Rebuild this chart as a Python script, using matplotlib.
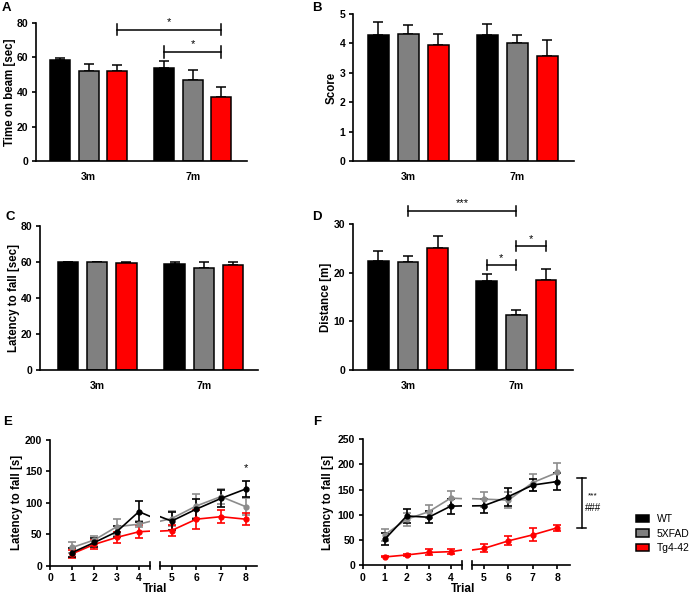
import numpy as np
import matplotlib.pyplot as plt
from matplotlib.patches import Patch

plt.rcParams['font.family'] = ['Liberation Sans', 'DejaVu Sans']
plt.rcParams['font.weight'] = 'bold'
plt.rcParams['axes.labelweight'] = 'bold'

# ----------------------
# Data
# ----------------------
groups = ['WT', '5XFAD', 'Tg4-42']
ages = ['3m', '7m']
colors = ['#000000', '#808080', '#ff0000']
line_colors = ['#000000', '#8c8c8c', '#ff0000']

# bar panels: values ordered WT, 5XFAD, Tg4-42 for 3m then 7m
beam_time = [58.4, 52.3, 52.3, 54.0, 46.9, 37.1]
beam_time_err = [1.4, 3.9, 3.1, 4.0, 5.6, 5.6]
beam_score = [4.29, 4.33, 3.94, 4.29, 4.01, 3.57]
beam_score_err = [0.43, 0.30, 0.39, 0.38, 0.28, 0.53]
grid_latency = [59.8, 59.8, 59.5, 58.5, 56.5, 58.0]
grid_latency_err = [0.1, 0.1, 0.4, 1.1, 3.4, 1.7]
distance = [22.4, 22.2, 25.1, 18.2, 11.2, 18.5]
distance_err = [2.1, 1.3, 2.4, 1.6, 1.2, 2.3]

# rotarod trials
trials = [1, 2, 3, 4, 5, 6, 7, 8]
e_wt = [21, 37, 54, 86, 71, 90, 107, 122]
e_wt_err = [7, 7, 9, 17, 14, 16, 13, 13]
e_5xfad = [29, 41, 62, 66, 75, 95, 110, 94]
e_5xfad_err = [8, 7, 13, 5, 12, 19, 12, 13]
e_tg = [19, 34, 45, 54, 56, 74, 78, 74]
e_tg_err = [6, 7, 9, 10, 8, 15, 10, 10]

f_wt = [51, 97.5, 95, 117, 118, 136, 159, 166]
f_wt_err = [12, 14, 12, 15, 14, 18, 12, 17]
f_5xfad = [60, 91, 106, 133, 131, 129, 164, 184]
f_5xfad_err = [12, 13, 13, 15, 15, 16, 16, 19]
f_tg = [16, 20, 25, 26.5, 33, 48, 60, 74]
f_tg_err = [1, 2, 6, 5, 8, 9, 13, 6]

W, H = 700, 598
BAR_POS = np.array([0, 1, 2, 3.65, 4.65, 5.65])


def px_box(l, t, r, b):
    return [l / W, 1 - b / H, (r - l) / W, (b - t) / H]


def style_axes(ax):
    for s in ['top', 'right']:
        ax.spines[s].set_visible(False)
    for s in ['left', 'bottom']:
        ax.spines[s].set_linewidth(1.2)
    ax.tick_params(axis='both', labelsize=7.5, width=1.2, length=3, pad=2.5)


def place_ylabel(ax, box, text, label_px):
    # label_px is the horizontal centre of the rotated label in figure pixels
    ax.set_ylabel(text, fontsize=8.3)
    right_edge = label_px + 6
    ax.yaxis.set_label_coords((right_edge - box[0]) / (box[2] - box[0]), 0.5)


def bracket(ax, x1, x2, y, h, label, label_dy, fs=8):
    ax.plot([x1, x2], [y, y], color='black', lw=1.1, clip_on=False)
    for x in (x1, x2):
        ax.plot([x, x], [y - h, y + h], color='black', lw=1.1, clip_on=False)
    ax.text((x1 + x2) / 2, y + label_dy, label, ha='center', va='bottom',
            fontsize=fs, fontweight='normal')


def bar_panel(box, values, errs, ylim, yticks, ylabel, label_px, letter, letter_xy,
              xlim=(-0.85, 6.55)):
    ax = fig.add_axes(px_box(*box))
    cols = colors * 2
    ax.bar(BAR_POS, values, width=0.7, color=cols, edgecolor='black', linewidth=1.1, zorder=2)
    ax.errorbar(BAR_POS, values, yerr=[np.zeros(len(errs)), errs], fmt='none',
                ecolor='black', elinewidth=1.1, capsize=3.5, capthick=1.1, zorder=1)
    ax.set_xlim(*xlim)
    ax.set_ylim(*ylim)
    ax.set_yticks(yticks)
    ax.set_xticks([BAR_POS[1], BAR_POS[4]])
    ax.set_xticklabels(ages)
    style_axes(ax)
    ax.tick_params(axis='x', length=0, pad=8)
    place_ylabel(ax, box, ylabel, label_px)
    fig.text(letter_xy[0] / W, 1 - letter_xy[1] / H, letter, fontsize=9.5,
             fontweight='bold', ha='center', va='center')
    return ax


def trial_panel(left_box, right_box, series, ylim, yticks, ylabel, label_px, letter,
                letter_xy, right_xlim, trial_x):
    axl = fig.add_axes(px_box(*left_box))
    axr = fig.add_axes(px_box(*right_box), sharey=axl)
    for ax in (axl, axr):
        for vals, errs, c in series:
            ax.errorbar(trials, vals, yerr=errs, color=c, ecolor=c, lw=1.2,
                        elinewidth=1.2, capsize=3, capthick=1.2, marker='o',
                        markersize=3.5, zorder=2)
        style_axes(ax)
    axl.set_xlim(0, 4.5)
    axr.set_xlim(*right_xlim)
    axl.set_ylim(*ylim)
    axl.set_yticks(yticks)
    axl.set_xticks([0, 1, 2, 3, 4])
    axr.set_xticks([5, 6, 7, 8])
    axr.spines['left'].set_visible(False)
    axr.tick_params(axis='y', left=False, labelleft=False)
    # break marks at the axis ends
    axl.plot([1, 1], [-0.03, 0.03], transform=axl.transAxes, color='black',
             lw=1.2, clip_on=False)
    axr.plot([0, 0], [-0.03, 0.03], transform=axr.transAxes, color='black',
             lw=1.2, clip_on=False)
    place_ylabel(axl, left_box, ylabel, label_px)
    fig.text(trial_x / W, 1 - 589 / H, 'Trial', fontsize=8.5, fontweight='bold',
             ha='center', va='center')
    fig.text(letter_xy[0] / W, 1 - letter_xy[1] / H, letter, fontsize=9.5,
             fontweight='bold', ha='center', va='center')
    return axl, axr


fig = plt.figure(figsize=(W / 100, H / 100), dpi=100)

# A
axA = bar_panel((36, 22.7, 246.7, 161.3), beam_time, beam_time_err, (0, 80),
                [0, 20, 40, 60, 80], 'Time on beam [sec]', 10, 'A', (6, 8))
bracket(axA, BAR_POS[2], BAR_POS[5], 76, 3.3, '*', 1.5)
bracket(axA, BAR_POS[3], BAR_POS[5], 63, 3.3, '*', 1.5)

# B
bar_panel((353, 14, 574, 161), beam_score, beam_score_err, (0, 5),
          [0, 1, 2, 3, 4, 5], 'Score', 332, 'B', (317, 8))

# C
bar_panel((40, 225.7, 258, 369.7), grid_latency, grid_latency_err, (0, 80),
          [0, 20, 40, 60, 80], 'Latency to fall [sec]', 14, 'C', (10, 217),
          xlim=(-0.95, 6.5))

# D
axD = bar_panel((353, 224.3, 572.7, 369.7), distance, distance_err, (0, 30),
                [0, 10, 20, 30], 'Distance [m]', 326, 'D', (317, 217))
bracket(axD, BAR_POS[1], BAR_POS[4], 32.8, 1.0, '***', 0.5)
bracket(axD, BAR_POS[3], BAR_POS[4], 21.6, 1.0, '*', 0.5)
bracket(axD, BAR_POS[4], BAR_POS[5], 25.5, 1.0, '*', 0.5)

# E
e_series = [(e_5xfad, e_5xfad_err, line_colors[1]),
            (e_tg, e_tg_err, line_colors[2]),
            (e_wt, e_wt_err, line_colors[0])]
axEl, axEr = trial_panel((50, 440, 150, 565.7), (160, 440, 256.7, 565.7), e_series,
                         (0, 200), [0, 50, 100, 150, 200], 'Latency to fall [s]', 17,
                         'E', (8, 422), (4.53, 8.45), 155)
axEr.text(8, 148, '*', ha='center', va='bottom', fontsize=8, fontweight='normal')

# F
f_series = [(f_5xfad, f_5xfad_err, line_colors[1]),
            (f_tg, f_tg_err, line_colors[2]),
            (f_wt, f_wt_err, line_colors[0])]
axFl, axFr = trial_panel((362.7, 439.3, 461.7, 565), (471.7, 439.3, 570, 565), f_series,
                         (0, 250), [0, 50, 100, 150, 200, 250], 'Latency to fall [s]', 328,
                         'F', (317, 422), (4.5, 8.52), 463)
axFr.plot([9.0, 9.0], [73, 173.6], color='black', lw=1.1, clip_on=False)
for yv in (73, 173.6):
    axFr.plot([8.82, 9.18], [yv, yv], color='black', lw=1.1, clip_on=False)
axFr.text(9.45, 130, '***', ha='center', va='bottom', fontsize=6, fontweight='normal',
          clip_on=False)
axFr.text(9.45, 114, '###', ha='center', va='center', fontsize=7, fontweight='normal',
          clip_on=False)

# legend
handles = [Patch(facecolor=c, edgecolor='black', linewidth=1.1) for c in colors]
fig.legend(handles, groups, loc='upper left', bbox_to_anchor=(636 / W, 1 - 514 / H),
           frameon=False, borderpad=0, borderaxespad=0, handlelength=1.2,
           handleheight=0.7, labelspacing=0.45, handletextpad=0.8,
           prop={'size': 7.5, 'weight': 'normal'})

fig.savefig('out.png', dpi=100)
